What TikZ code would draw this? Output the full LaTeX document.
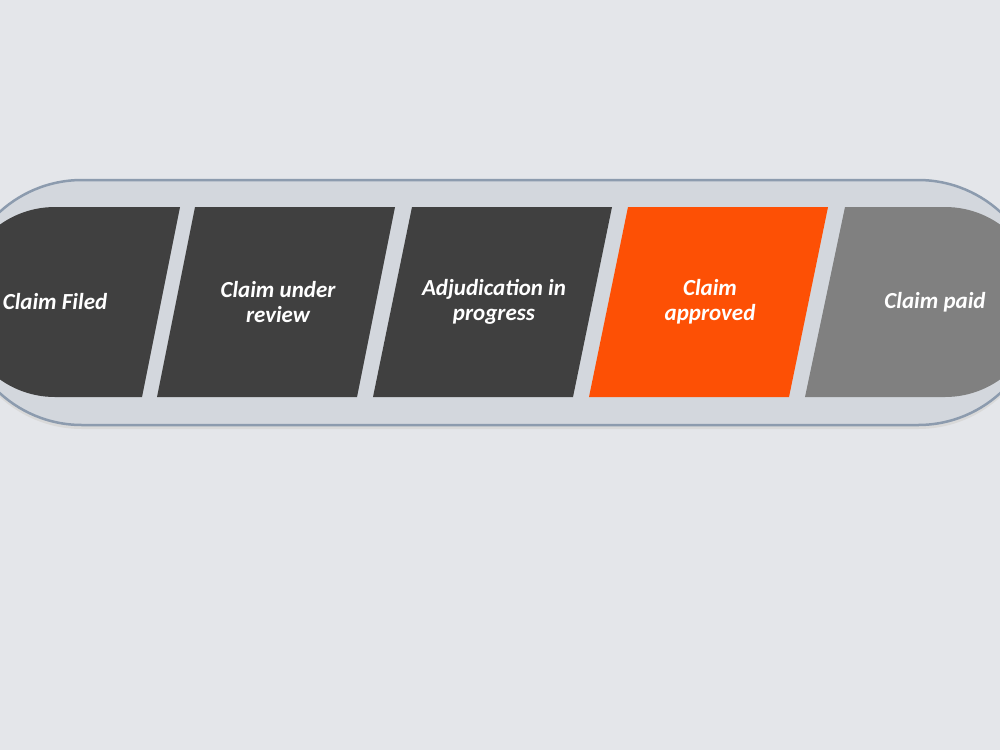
\documentclass[tikz,border=0pt]{standalone}
\usepackage{fontspec}
\setmainfont{Carlito}
\definecolor{bgc}{HTML}{E4E6EA}
\definecolor{pillc}{HTML}{D3D7DD}
\definecolor{pillb}{HTML}{8C9BAE}
\definecolor{darkc}{HTML}{404040}
\definecolor{orangec}{HTML}{FD5005}
\definecolor{grayc}{HTML}{808080}
\begin{document}
\begin{tikzpicture}[x=1pt,y=-1pt,
  label text/.style={text=white,font=\fontsize{23}{25}\selectfont\bfseries\itshape,align=center}]
  \fill[bgc] (0,0) rectangle (1000,750);
  \useasboundingbox (0,0) rectangle (1000,750);
  % outer pill
  \fill[black!15,rounded corners=122pt] (-40,184) rectangle (1040,429);
  \draw[pillb,line width=2.5pt,fill=pillc,rounded corners=122pt] (-40,180) rectangle (1040,425);
  % stage blocks
  \begin{scope}
    \clip[rounded corners=95pt] (-40,207) rectangle (1040,397);
    \fill[darkc] (-60,207) -- (180,207) -- (142,397) -- (-60,397) -- cycle;
    \fill[darkc] (195,207) -- (395,207) -- (357,397) -- (157,397) -- cycle;
    \fill[darkc] (412,207) -- (612,207) -- (573,397) -- (373,397) -- cycle;
    \fill[orangec] (628,207) -- (828,207) -- (789,397) -- (589,397) -- cycle;
    \fill[grayc] (845,207) -- (1060,207) -- (1060,397) -- (805,397) -- cycle;
  \end{scope}
  \node[label text] (filed) at (55,302) {Claim Filed};
  \node[label text] (review) at (278,302) {Claim under\\review};
  \node[label text] (adjud) at (494,302) {Adjudication in\\progress};
  \node[label text] (approved) at (710,302) {Claim\\approved};
  \node[label text] (paid) at (935,302) {Claim paid};
\end{tikzpicture}
\end{document}
